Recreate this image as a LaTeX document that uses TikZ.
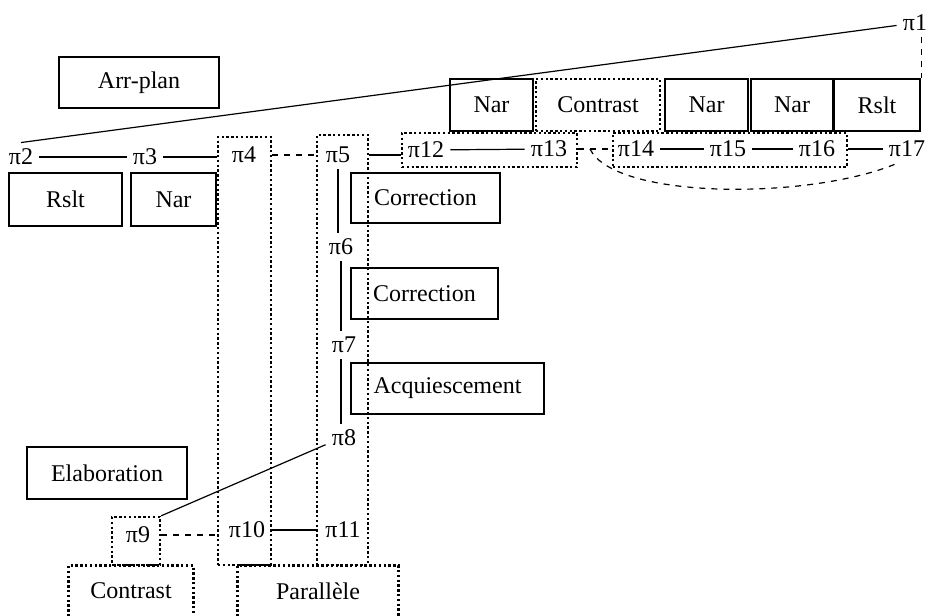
\documentclass[tikz,border=0pt]{standalone}
\usepackage{fontspec}
\setmainfont{Liberation Serif}
\usetikzlibrary{arrows}

\begin{document}
\begin{tikzpicture}[x=0.5pt,y=-0.5pt,font=\fontsize{12}{14}\selectfont]

\tikzstyle{rel}=[rectangle, draw=black, line width=1.3pt, inner sep=0pt]
\tikzstyle{dots}=[line width=1.2pt, dash pattern=on 1.2pt off 1.2pt]
\tikzstyle{group}=[rectangle, draw=black, dots, inner sep=0pt]
\tikzstyle{du}=[inner sep=3pt]

\tikzstyle{connect}=[-, line width=0.6pt]
\tikzstyle{sub}=[-, line width=0.6pt, dashed]

\useasboundingbox (0,0) rectangle (933,616);

% relations
\node[rel, minimum width=80pt, minimum height=25.5pt] (arr) at (139,82.5) {Arr-plan};
\node[rel, minimum width=56.5pt, minimum height=26.5pt] (rslt1) at (65.5,199.5) {Rslt};
\node[rel, minimum width=42.5pt, minimum height=26.5pt] (nar1) at (173.5,199.5) {Nar};
\node[rel, minimum width=74.5pt, minimum height=25pt] (corr1) at (425.5,198) {Correction};
\node[rel, minimum width=73.5pt, minimum height=25.5pt] (corr2) at (424.5,293.5) {Correction};
\node[rel, minimum width=96.5pt, minimum height=25.5pt] (acq) at (447.5,388.5) {Acquiescement};
\node[rel, minimum width=80pt, minimum height=26pt] (elab) at (107,473) {Elaboration};

\node[rel, minimum width=41.5pt, minimum height=26pt] (nar2) at (491.5,105) {Nar};
\node[group, minimum width=62pt, minimum height=26pt] (contr1) at (598,105) {Contrast};
\node[rel, minimum width=41.5pt, minimum height=26pt] (nar3) at (706.5,105) {Nar};
\node[rel, minimum width=41pt, minimum height=26pt] (nar4) at (792,105) {Nar};
\node[rel, minimum width=43pt, minimum height=26pt] (rslt2) at (877,105) {Rslt};

% complex segments
\node[group, minimum width=26.5pt, minimum height=214pt] (g4) at (244.5,351) {};
\node[group, minimum width=25.5pt, minimum height=215pt] (g5) at (342.5,350) {};
\node[group, minimum width=87.5pt, minimum height=17pt] (g12) at (489.5,150) {};
\node[group, minimum width=117pt, minimum height=17pt] (g14) at (730,150) {};
\node[group, minimum width=24pt, minimum height=24pt] (g9) at (136,541) {};

\node[du, minimum width=62pt, minimum height=25pt] (contr2) at (131,591) {Contrast};
\node[du, minimum width=80pt, minimum height=25pt] (par) at (318,591) {Parallèle};
\draw[dots] (contr2.south west) |- (contr2.north east) -- (contr2.south east);
\draw[dots] (par.south west) |- (par.north east) -- (par.south east);

% discourse units
\node[du] (p1) at (915,23) {π1};
\node[du] (p2) at (21,157) {π2};
\node[du] (p3) at (145,157) {π3};
\node[du] (p4) at (244,155) {π4};
\node[du] (p5) at (338,155) {π5};
\node[du] (p6) at (341,247) {π6};
\node[du] (p7) at (344,345) {π7};
\node[du] (p8) at (344,438) {π8};
\node[du] (p9) at (138,535) {π9};
\node[du] (p10) at (247,530) {π10};
\node[du] (p11) at (343,530) {π11};
\node[du] (p12) at (426,150) {π12};
\node[du] (p13) at (549,149) {π13};
\node[du] (p14) at (636,149) {π14};
\node[du] (p15) at (728,149) {π15};
\node[du] (p16) at (817,149) {π16};
\node[du] (p17) at (907,149) {π17};

\path (p2.north) [connect] edge (p1);
\path (rslt2.north east |- p1.south) [sub] edge (rslt2.north east);

\path (p2) [connect] edge (p3);
\path (p3) [connect] edge (p3 -| g4.west);
\path (g4.east |- p4) [sub] edge (g5.west |- p4);
\path (g5.east |- p5) [connect] edge (g12.west |- p5);

\path (p5) [connect] edge (p5 |- p6.north);
\path (p6) [connect] edge (p6 |- p7.north);
\path (p7.south -| p6) [connect] edge (p6 |- p8.north);
\path (p8.200) [connect] edge (g9.north east);

\path (g9.east |- p9) [sub] edge (g4.west |- p9);
\path (p10) [connect] edge (p10 -| g5.west);

\path (p12) [connect] edge (p13);
\draw[sub] (g12.east |- p13) -- coordinate[pos=0.35] (fork) (g14.west |- p13);
\path (p14) [connect] edge (p15);
\path (p15) [connect] edge (p16);
\path (g14.east |- p16) [connect] edge (p17);

\draw[sub] (fork) .. controls (615,200) and (810,200) .. (p17.235);

\end{tikzpicture}
\end{document}
